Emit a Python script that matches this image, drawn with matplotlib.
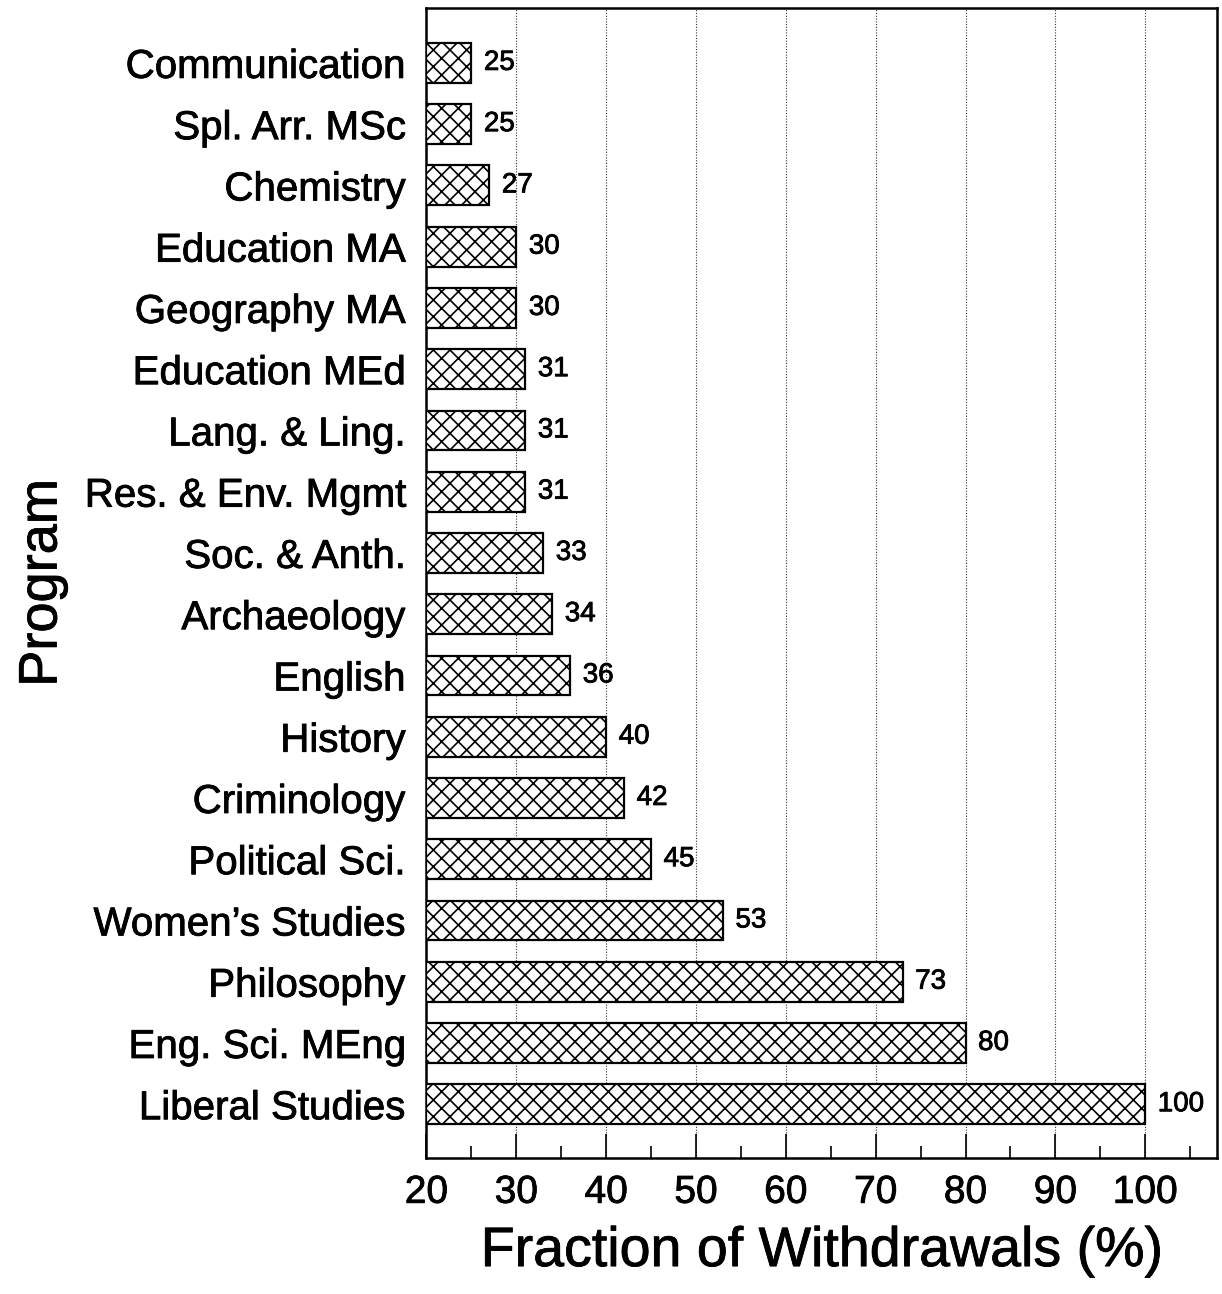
import matplotlib
matplotlib.use("Agg")
import matplotlib.pyplot as plt
import matplotlib.patheffects as pe
from matplotlib.ticker import MultipleLocator

programs = ["Communication", "Spl. Arr. MSc", "Chemistry", "Education MA",
            "Geography MA", "Education MEd", "Lang. & Ling.", "Res. & Env. Mgmt",
            "Soc. & Anth.", "Archaeology", "English", "History", "Criminology",
            "Political Sci.", "Women\u2019s Studies", "Philosophy", "Eng. Sci. MEng",
            "Liberal Studies"]
withdrawals = [25, 25, 27, 30, 30, 31, 31, 31, 33, 34, 36, 40, 42, 45, 53, 73, 80, 100]

plt.rcParams['font.family'] = ['Liberation Sans', 'DejaVu Sans']
plt.rcParams['hatch.linewidth'] = 1.2

thick = [pe.withStroke(linewidth=0.6, foreground='black')]

fig = plt.figure(figsize=(12.22, 12.94), dpi=100)
ax = fig.add_axes([0.349, 0.105, 0.647, 0.889])

ypos = list(range(len(programs)))
base = 20
bars = ax.barh(ypos, [v - base for v in withdrawals], left=base, height=0.65,
               color='white', edgecolor='black', linewidth=1.6, hatch='xx', zorder=3)

for y, v in zip(ypos, withdrawals):
    ax.annotate(str(v), xy=(v, y), xytext=(9, 0), textcoords='offset points',
                va='center', ha='left', fontsize=20, path_effects=thick)

ax.set_xlim(20, 108)
ax.set_ylim(len(programs) - 1 + 0.88, -0.9)
ax.set_yticks(ypos)
ax.set_yticklabels(programs, fontsize=29)
ax.xaxis.set_major_locator(MultipleLocator(10))
ax.xaxis.set_minor_locator(MultipleLocator(5))
ax.set_xticks(range(20, 101, 10))
ax.tick_params(axis='x', which='major', direction='in', length=17, width=1.2,
               labelsize=28, pad=12, top=False)
ax.tick_params(axis='x', which='minor', direction='in', length=8.5, width=1.2, top=False)
ax.tick_params(axis='y', which='both', length=0, pad=15)
ax.grid(axis='x', which='major', linestyle=(0, (1, 1.5)), color='#333333',
        linewidth=0.8, zorder=0)
ax.set_axisbelow(True)
for s in ax.spines.values():
    s.set_linewidth(1.8)

ax.set_xlabel("Fraction of Withdrawals (%)", fontsize=40, labelpad=11)
ax.set_ylabel("Program", fontsize=39)
ax.yaxis.set_label_coords(-0.454, 0.5)

for t in ax.get_xticklabels() + ax.get_yticklabels() + [ax.xaxis.label, ax.yaxis.label]:
    t.set_path_effects(thick)

fig.savefig("out.png", dpi=100)
